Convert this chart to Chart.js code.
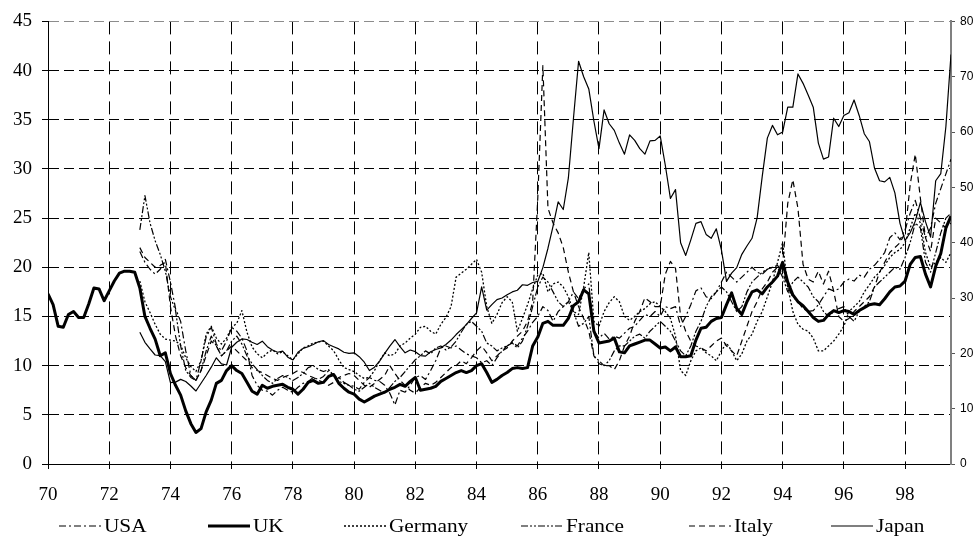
<!DOCTYPE html>
<html>
<head>
<meta charset="utf-8">
<script src="https://cdn.jsdelivr.net/npm/chart.js@4.4.0/dist/chart.umd.min.js"></script>
<style>
  html, body { margin: 0; padding: 0; background: #fff; }
  #wrap { width: 980px; height: 539px; position: relative; }
</style>
</head>
<body>
<div id="wrap"><canvas id="c" width="980" height="539"></canvas></div>
<script>
// Observations every two months (six per year)
const firstYear = 1970;
const perYear = 6;
const laterStart = 1973;          // five of the series begin in January 1973

// Tick labels on the time axis (two-digit years)
const yearTicks = [70, 72, 74, 76, 78, 80, 82, 84, 86, 88, 90, 92, 94, 96, 98];

// Series names in legend order
const seriesNames = ['USA', 'UK', 'Germany', 'France', 'Italy', 'Japan'];

// UK, from 1970 (left axis)
const ukValues = [
  17.3, 16.2, 14.0, 13.9, 15.2, 15.5,
  14.9, 14.9, 16.3, 17.9, 17.8, 16.6,
  17.6, 18.6, 19.4, 19.6, 19.6, 19.5,
  17.9, 15.0, 13.8, 12.7, 11.0, 11.3,
  9.2, 8.0, 7.0, 5.4, 4.1, 3.2,
  3.6, 5.3, 6.5, 8.2, 8.5, 9.5,
  10.0, 9.5, 9.2, 8.3, 7.4, 7.1,
  8.0, 7.7, 7.9, 8.0, 8.1, 7.8,
  7.6, 7.1, 7.6, 8.3, 8.5, 8.2,
  8.3, 8.9, 9.1, 8.2, 7.7, 7.3,
  7.1, 6.6, 6.3, 6.6, 6.9, 7.1,
  7.3, 7.6, 7.8, 8.1, 7.9, 8.4,
  8.8, 7.5, 7.6, 7.7, 7.9, 8.4,
  8.7, 9.0, 9.3, 9.5, 9.3, 9.5,
  10.0, 10.2, 9.3, 8.3, 8.6, 9.0,
  9.3, 9.7, 9.8, 9.7, 9.8, 12.0,
  12.9, 14.3, 14.5, 14.1, 14.1, 14.1,
  14.8, 16.1, 16.5, 17.7, 17.3, 13.5,
  12.3, 12.4, 12.5, 12.8, 11.4, 11.3,
  12.0, 12.2, 12.4, 12.6, 12.6, 12.2,
  11.8, 11.9, 11.5, 11.9, 10.9, 10.9,
  11.0, 12.6, 13.8, 13.9, 14.5, 14.8,
  14.9, 16.2, 17.4, 15.8, 15.2, 16.5,
  17.5, 17.7, 17.3, 18.0, 18.5, 19.1,
  20.5, 18.5, 17.2, 16.5, 16.1, 15.5,
  14.9, 14.5, 14.6, 15.2, 15.6, 15.4,
  15.6, 15.5, 15.2, 15.6, 15.9, 16.2,
  16.3, 16.2, 16.8, 17.5, 18.0, 18.1,
  18.6, 20.3, 21.0, 21.1, 19.3, 18.0,
  20.1, 21.4, 24.0, 25.2
];

// USA, from 1973 (left axis)
const usaValues = [
  21.6, 20.5, 19.8, 19.3, 19.8, 20.8,
  18.5, 15.8, 14.5, 11.5, 9.0, 8.5,
  10.5, 12.9, 13.9, 12.2, 11.5, 12.5,
  13.9, 13.5, 12.8, 11.5, 9.0, 8.0,
  7.5, 7.4, 7.0, 7.5, 7.8, 7.5,
  7.3, 7.8, 8.2, 8.4, 8.8, 8.6,
  8.9, 9.5, 9.0, 8.8, 8.3, 8.0,
  7.9, 7.6, 8.3, 8.8, 8.5, 8.4,
  8.0, 7.2, 6.0, 7.5, 7.3, 8.0,
  8.8, 9.0, 8.6, 9.5, 10.5, 11.8,
  12.0, 11.8, 12.0, 11.6, 11.2, 11.0,
  10.8, 10.3, 10.5, 10.0, 10.8, 11.5,
  12.0, 12.4, 12.0, 12.8, 13.5, 14.4,
  15.0, 16.0, 15.6, 14.5, 15.5, 16.0,
  16.5, 17.5, 16.8, 17.8, 18.3, 13.5,
  12.8, 13.3, 12.7, 13.0, 12.8, 13.3,
  13.8, 14.0, 14.6, 15.2, 15.0, 15.5,
  15.0, 16.0, 15.8, 16.0, 14.0, 15.0,
  16.2, 17.6, 17.9, 17.0, 16.8, 17.5,
  18.5, 19.5, 19.0, 18.5, 19.0, 19.5,
  20.0, 19.5, 19.3, 19.8, 20.0, 20.2,
  19.5, 18.0, 17.0, 16.5, 15.8, 15.5,
  15.6, 16.2, 17.0, 17.8, 17.6, 17.8,
  18.5, 18.8, 18.6, 19.2, 19.0, 19.8,
  20.2, 20.8, 21.5, 23.0, 23.5, 22.8,
  23.8, 25.5, 26.8, 25.0, 23.0, 24.0,
  26.5, 28.0, 29.5, 31.0
];

// Germany, from 1973 (left axis)
const germanyValues = [
  18.6, 16.5, 15.4, 14.2, 13.2, 12.7,
  12.6, 12.5, 12.1, 10.8, 9.9, 9.4,
  10.5, 13.2, 14.0, 12.8, 12.2, 12.8,
  13.9, 14.3, 15.6, 13.4, 11.9, 11.2,
  10.8, 11.3, 11.6, 11.2, 11.4, 11.0,
  10.6, 11.2, 11.8, 12.0, 12.3, 12.4,
  12.5, 12.0, 11.5, 10.6, 9.8, 9.6,
  9.4, 9.0, 8.7, 8.8, 9.5, 10.5,
  11.3, 11.0, 11.2, 12.0, 12.3, 12.8,
  13.2, 13.9, 14.0, 13.5, 13.2, 14.2,
  14.9, 16.0, 19.0, 19.4, 19.8, 20.3,
  20.8, 19.5, 16.0, 14.3, 15.2, 16.4,
  17.0, 16.5, 13.5, 14.8, 16.2, 17.8,
  19.2, 19.4, 17.5, 18.3, 18.5, 18.0,
  17.0, 15.5, 15.2, 18.0, 21.5, 14.5,
  14.0, 15.5, 16.4, 17.0, 16.5, 15.0,
  14.6, 15.0, 15.5, 15.8, 16.3, 16.5,
  16.0, 15.5, 14.8, 13.0, 9.5, 9.0,
  10.5, 11.5, 11.8, 11.3, 11.0, 10.5,
  11.5, 12.3, 11.5, 10.5, 11.2, 12.5,
  13.2, 14.5, 15.5, 17.0, 18.5, 20.5,
  22.5, 18.0, 15.5, 14.2, 13.7, 13.5,
  12.8, 11.5, 11.5, 12.0, 12.5, 13.2,
  14.0, 15.5, 16.0, 16.5, 17.5, 18.2,
  19.0, 19.5, 20.2, 21.0, 21.5, 21.8,
  22.5, 24.0, 25.5, 24.5, 21.5, 20.0,
  20.5, 21.0, 20.5, 21.5
];

// France, from 1973 (left axis)
const franceValues = [
  23.8, 27.3, 24.5, 22.7, 21.3, 19.6,
  17.0, 15.6, 12.0, 9.5, 8.8, 8.5,
  9.5, 11.5, 13.0, 12.0, 11.0, 11.5,
  12.5, 13.0, 12.2, 11.0, 10.2, 9.6,
  9.0, 8.5, 8.2, 8.7, 9.0, 8.8,
  8.5, 8.8, 9.2, 9.8, 10.0, 9.6,
  9.4, 9.6, 9.0, 8.4, 8.2, 8.0,
  7.6, 7.4, 7.8, 8.2, 7.8, 7.5,
  7.2, 7.8, 8.4, 8.8, 9.4, 10.0,
  10.6, 11.0, 11.5, 11.2, 11.8, 12.0,
  11.6, 11.9, 12.5, 13.4, 14.2, 14.5,
  14.0, 13.5, 12.3, 12.0, 11.5, 11.8,
  12.0, 12.3, 11.8, 12.5, 14.0, 16.0,
  18.0, 19.0, 18.5, 17.5, 16.5, 16.0,
  16.5, 15.5, 14.0, 14.3, 15.0, 11.0,
  10.5, 10.0, 10.5, 11.5, 12.0, 12.0,
  12.5, 13.0, 13.2, 12.8, 13.5, 14.0,
  14.5, 14.0, 13.5, 12.5, 11.5, 11.0,
  12.0, 13.5, 14.5, 16.0, 17.0, 17.5,
  18.0, 17.5, 16.5, 15.5, 16.0, 17.5,
  18.5, 19.0, 19.5, 19.8, 20.0, 20.0,
  19.0, 17.5, 18.5, 19.0, 18.5, 18.0,
  17.0, 16.5, 15.5, 15.0, 15.5, 15.8,
  16.0, 15.0, 14.5, 15.5, 16.0, 16.5,
  18.0, 18.5, 19.0, 19.5, 20.0, 19.8,
  21.0, 22.5, 24.5, 24.0, 20.5, 19.5,
  21.5, 23.5, 25.0, 25.5
];

// Italy, from 1973 (left axis)
const italyValues = [
  22.0, 21.0, 20.5, 20.0, 20.2, 20.5,
  16.0, 13.0, 11.0, 9.8, 9.0, 8.5,
  9.5, 11.0, 12.5, 12.0, 11.0, 11.5,
  12.0, 11.5, 11.0, 10.5, 9.8, 9.5,
  9.3, 9.0, 8.7, 8.5, 8.8, 9.0,
  9.2, 9.5, 9.3, 9.0, 8.8, 8.5,
  8.3, 8.0, 8.3, 8.8, 9.0, 9.2,
  9.0, 8.5, 8.0, 7.8, 8.2, 8.6,
  9.0, 10.0, 9.2, 8.5, 8.0, 7.5,
  7.2, 7.8, 8.2, 8.0, 8.3, 8.8,
  9.3, 9.8, 10.0, 10.5, 10.2, 10.8,
  11.5, 12.0, 11.3, 10.5, 11.0, 11.5,
  11.8, 12.5, 13.0, 13.5, 14.5, 16.5,
  27.0, 40.5, 26.0, 24.5, 23.5, 22.0,
  19.5, 17.5, 16.0, 14.8, 13.5, 11.0,
  10.2, 10.0, 10.0, 9.6, 10.5, 12.0,
  13.0, 14.5, 15.5, 16.9, 16.5, 16.0,
  16.0, 19.3, 20.6, 19.9, 15.0, 13.5,
  12.5, 12.0, 11.8, 11.5, 12.0, 12.5,
  12.8, 12.0, 11.5, 11.0, 12.5, 14.0,
  15.5, 16.5, 17.8, 18.5, 19.5, 20.0,
  20.3, 26.5, 28.9, 26.0, 20.3, 18.8,
  18.5, 19.6, 18.3, 19.6, 17.6, 15.0,
  14.5, 14.8, 15.5, 16.0, 16.5, 17.0,
  18.0, 19.5, 20.5, 21.5, 22.0, 22.5,
  23.5, 28.4, 31.5, 27.0, 23.0, 21.6,
  25.0, 24.5, 24.0, 24.5
];

// Japan, from 1973 (right axis)
const japanValues = [
  23.8, 22.0, 20.8, 19.7, 19.6, 18.5,
  14.7, 14.8, 15.3, 14.9, 14.1, 13.2,
  14.6, 16.0, 17.5, 19.2, 18.1, 17.9,
  21.1, 22.0, 22.6, 22.5, 22.0, 21.6,
  22.2, 21.2, 20.6, 20.2, 20.4, 19.3,
  18.8, 20.2, 20.9, 21.2, 21.6, 22.1,
  22.3, 21.6, 21.2, 20.8, 20.2, 20.0,
  20.1, 19.4, 18.4, 16.9, 17.5, 18.6,
  20.0, 21.3, 22.5, 21.2, 20.1, 20.6,
  20.3, 19.6, 19.5, 20.3, 20.7, 21.0,
  21.6, 22.4, 23.4, 24.3, 25.2, 26.3,
  27.3, 32.0, 27.8, 28.8, 29.7, 30.0,
  30.6, 31.1, 31.4, 32.4, 32.3, 32.8,
  33.0, 35.5, 39.0, 43.0, 47.4, 46.0,
  51.7, 62.5, 72.8, 70.0, 67.8, 62.0,
  57.0, 64.0, 61.5, 60.3, 58.0, 56.0,
  59.5, 58.5, 57.0, 56.0, 58.4, 58.5,
  59.3, 54.0, 48.0, 49.6, 40.0, 37.7,
  40.5, 43.5, 43.8, 41.5, 40.8, 42.5,
  38.7, 33.0, 34.5, 35.5, 37.9, 39.4,
  40.8, 44.5, 52.0, 58.9, 61.2, 59.5,
  60.0, 64.5, 64.5, 70.5, 68.8, 66.7,
  64.5, 58.0, 55.1, 55.5, 62.5, 61.0,
  63.0, 63.5, 65.8, 63.0, 59.7, 58.3,
  53.5, 51.2, 51.0, 51.8, 49.0, 43.5,
  40.4, 41.8, 43.9, 47.3, 43.8, 41.0,
  51.2, 52.5, 61.0, 74.0
];

// Legend item left edges and vertical centre (layout only)
const legendX = [59, 208, 344, 521, 689, 831];
const legendY = 526;

const serif = "'Liberation Serif', 'Times New Roman', serif";
const sans = "'Liberation Sans', Arial, sans-serif";

// Turn a value list into {x, y} points on the two-month time grid
function toPoints(values, startYear) {
  return values.map((v, i) => ({ x: startYear + i / perYear, y: v }));
}

const datasets = [
  { label: seriesNames[0], data: toPoints(usaValues, laterStart), yAxisID: 'y',
    borderColor: '#000', borderWidth: 1.2, borderDash: [7, 3, 2, 3] },
  { label: seriesNames[1], data: toPoints(ukValues, firstYear), yAxisID: 'y',
    borderColor: '#000', borderWidth: 3, borderDash: [] },
  { label: seriesNames[2], data: toPoints(germanyValues, laterStart), yAxisID: 'y',
    borderColor: '#000', borderWidth: 1.3, borderDash: [2, 2] },
  { label: seriesNames[3], data: toPoints(franceValues, laterStart), yAxisID: 'y',
    borderColor: '#000', borderWidth: 1.2, borderDash: [7, 2, 2, 2, 2, 2] },
  { label: seriesNames[4], data: toPoints(italyValues, laterStart), yAxisID: 'y',
    borderColor: '#000', borderWidth: 1.2, borderDash: [6, 4] },
  { label: seriesNames[5], data: toPoints(japanValues, laterStart), yAxisID: 'y1',
    borderColor: '#000', borderWidth: 1.2, borderDash: [] }
];

// Bottom legend: a short line sample in each series' style, then its name
const bottomLegend = {
  id: 'bottomLegend',
  afterDraw(chart) {
    const ctx = chart.ctx;
    ctx.save();
    ctx.font = '19px ' + serif;
    ctx.textBaseline = 'middle';
    ctx.fillStyle = '#000';
    chart.data.datasets.forEach((ds, i) => {
      const x0 = legendX[i];
      ctx.beginPath();
      ctx.setLineDash(ds.borderDash || []);
      ctx.lineWidth = ds.borderWidth;
      ctx.strokeStyle = ds.borderColor;
      ctx.moveTo(x0, legendY);
      ctx.lineTo(x0 + 42, legendY);
      ctx.stroke();
      ctx.setLineDash([]);
      // names are set slightly wide, like the axis lettering
      ctx.save();
      ctx.translate(x0 + 45, legendY + 1);
      ctx.scale(1.12, 1);
      ctx.fillText(ds.label, 0, 0);
      ctx.restore();
    });
    ctx.restore();
  }
};

new Chart(document.getElementById('c'), {
  type: 'line',
  data: { datasets },
  plugins: [bottomLegend],
  options: {
    responsive: false,
    animation: false,
    devicePixelRatio: 1,
    layout: { padding: { top: 19, left: 0, right: 0, bottom: 0 } },
    plugins: { legend: { display: false }, tooltip: { enabled: false } },
    elements: {
      point: { radius: 0, hoverRadius: 0 },
      line: { tension: 0, borderJoinStyle: 'round', borderCapStyle: 'butt' }
    },
    scales: {
      x: {
        type: 'linear', min: 1970, max: 1999.5,
        // one tick every two years, 1970 to 1998
        afterBuildTicks: s => { s.ticks = yearTicks.map(y => ({ value: 1900 + y })); },
        afterFit: s => { s.height = 75; },
        ticks: {
          autoSkip: false, maxRotation: 0, minRotation: 0, padding: 15,
          color: '#000', font: { family: serif, size: 19 },
          callback: v => String(Math.round(v) - 1900)
        },
        grid: { color: '#000', lineWidth: 1, tickLength: 5, tickColor: '#000' },
        border: { display: true, color: '#000', width: 1, dash: [13, 7] }
      },
      y: {
        position: 'left', min: 0, max: 45,
        afterFit: s => { s.width = 48; },
        ticks: { stepSize: 5, padding: 10, color: '#000', font: { family: serif, size: 19 } },
        grid: {
          color: c => (c.tick && c.tick.value === 45) ? '#8c8c8c' : '#000',
          lineWidth: 1, tickLength: 6, tickColor: '#000'
        },
        border: { display: true, color: '#000', width: 1, dash: [10, 5] }
      },
      y1: {
        position: 'right', min: 0, max: 80,
        afterFit: s => { s.width = 29; },
        ticks: { stepSize: 10, padding: 5, color: '#000', font: { family: sans, size: 12 } },
        grid: { drawOnChartArea: false, tickLength: 4, tickColor: '#555' },
        border: { display: true, color: '#808080', width: 2 }
      }
    }
  }
});
</script>
</body>
</html>
